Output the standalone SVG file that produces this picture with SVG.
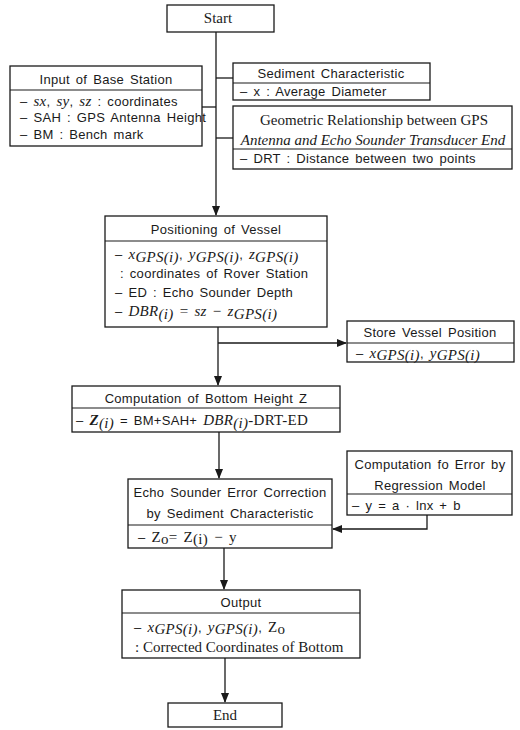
<svg xmlns="http://www.w3.org/2000/svg" width="520" height="730" viewBox="0 0 520 730">
<style>
.box{fill:#fff;stroke:#1a1a1a;stroke-width:1.3}
.div{stroke:#1a1a1a;stroke-width:1.1}
.s{font-family:"Liberation Sans",Arial,sans-serif;font-size:13px;fill:#1a1a1a;letter-spacing:0.3px;word-spacing:2px}
.r{font-family:"Liberation Serif","Times New Roman",serif;font-size:15px;fill:#1a1a1a}
.i{font-family:"Liberation Serif","Times New Roman",serif;font-style:italic;font-size:15px;fill:#1a1a1a}
.c{text-anchor:middle}
.conn path{fill:none;stroke:#1a1a1a;stroke-width:1.3}
</style>
<defs>
<marker id="ah" markerWidth="10" markerHeight="8" refX="9" refY="4" orient="auto" markerUnits="userSpaceOnUse">
<path d="M0,0 L10,4 L0,8 Z" fill="#1a1a1a"/>
</marker>
</defs>

<g class="conn">
<path d="M216,32 V215" marker-end="url(#ah)"/>
<path d="M202,107 H216"/>
<path d="M216,78 H233"/>
<path d="M216,138 H233"/>
<path d="M218,327 V385" marker-end="url(#ah)"/>
<path d="M218,343 H346" marker-end="url(#ah)"/>
<path d="M219,432 V478" marker-end="url(#ah)"/>
<path d="M427,515 V529 H333" marker-end="url(#ah)"/>
<path d="M224,548 V589" marker-end="url(#ah)"/>
<path d="M225,658 V702" marker-end="url(#ah)"/>
</g>

<g id="start">
<rect class="box" x="167" y="5" width="107" height="27"/>
<text class="r c" x="218" y="23">Start</text>
</g>

<g id="input-base-station">
<rect class="box" x="10" y="66" width="192" height="80"/>
<line class="div" x1="10" y1="90" x2="202" y2="90"/>
<text class="s c" x="106" y="84">Input of Base Station</text>
<text class="s" x="20" y="106">–  <tspan class="i" font-size="14">sx</tspan>,  <tspan class="i" font-size="14">sy</tspan>,  <tspan class="i" font-size="14">sz</tspan> : coordinates</text>
<text class="s" x="20" y="122">– SAH : GPS Antenna Height</text>
<text class="s" x="20" y="139">– BM : Bench mark</text>
</g>

<g id="sediment">
<rect class="box" x="233" y="63" width="197" height="37"/>
<line class="div" x1="233" y1="83" x2="430" y2="83"/>
<text class="s c" x="331" y="78">Sediment Characteristic</text>
<text class="s" x="240" y="96">– x : Average Diameter</text>
</g>

<g id="geometric">
<rect class="box" x="233" y="106" width="279" height="63"/>
<line class="div" x1="233" y1="149" x2="512" y2="149"/>
<text class="r" x="260" y="125" textLength="228" lengthAdjust="spacing">Geometric Relationship between GPS</text>
<text class="i c" x="373" y="145">Antenna and Echo Sounder Transducer End</text>
<text class="s" x="240" y="163">– DRT : Distance between two points</text>
</g>

<g id="positioning">
<rect class="box" x="105" y="216" width="222" height="111"/>
<line class="div" x1="105" y1="241" x2="327" y2="241"/>
<text class="s c" x="216" y="234">Positioning of Vessel</text>
<text class="s" x="115" y="259">–  <tspan class="i" font-size="16">x</tspan><tspan class="i" font-size="9" dy="3">GPS(i)</tspan><tspan dy="-3">,   </tspan><tspan class="i" font-size="16">y</tspan><tspan class="i" font-size="9" dy="3">GPS(i)</tspan><tspan dy="-3">,   </tspan><tspan class="i" font-size="16">z</tspan><tspan class="i" font-size="9" dy="3">GPS(i)</tspan></text>
<text class="s" x="120" y="278">: coordinates of Rover Station</text>
<text class="s" x="115" y="297">–  ED : Echo Sounder Depth</text>
<text class="s" x="115" y="316">–  <tspan class="i">DBR</tspan><tspan class="i" font-size="9" dy="3">(i)</tspan><tspan class="r" dy="-3"> = </tspan><tspan class="i">sz</tspan><tspan class="r"> − </tspan><tspan class="i">z</tspan><tspan class="i" font-size="9" dy="3">GPS(i)</tspan></text>
</g>

<g id="store">
<rect class="box" x="347" y="321" width="167" height="41"/>
<line class="div" x1="347" y1="343" x2="514" y2="343"/>
<text class="s c" x="430" y="337">Store Vessel Position</text>
<text class="s" x="356" y="358">–  <tspan class="i" font-size="14">x</tspan><tspan class="i" font-size="9" dy="2">GPS(i)</tspan><tspan dy="-2">,  </tspan><tspan class="i" font-size="14">y</tspan><tspan class="i" font-size="9" dy="2">GPS(i)</tspan></text>
</g>

<g id="bottom-height">
<rect class="box" x="72" y="386" width="268" height="46"/>
<line class="div" x1="72" y1="408" x2="340" y2="408"/>
<text class="s c" x="206" y="403">Computation of Bottom Height Z</text>
<text class="s" x="76" y="425">– <tspan class="i" font-weight="bold">Z</tspan><tspan class="i" font-size="9" dy="3">(i)</tspan><tspan dy="-3"> = BM+SAH+ </tspan><tspan class="i">DBR</tspan><tspan class="i" font-size="9" dy="3">(i)</tspan><tspan class="r" font-size="14" dy="-3">-DRT-ED</tspan></text>
</g>

<g id="regression">
<rect class="box" x="347" y="451" width="165" height="64"/>
<line class="div" x1="347" y1="494" x2="512" y2="494"/>
<text class="s c" x="430" y="469">Computation fo Error by</text>
<text class="s c" x="430" y="490">Regression Model</text>
<text class="s" x="352" y="510">– y = a · lnx + b</text>
</g>

<g id="echo-correction">
<rect class="box" x="128" y="479" width="204" height="69"/>
<line class="div" x1="128" y1="525" x2="332" y2="525"/>
<text class="s c" x="230" y="497">Echo Sounder Error Correction</text>
<text class="s c" x="230" y="518">by Sediment Characteristic</text>
<text class="s" x="138" y="542">–  <tspan class="r">Z</tspan><tspan class="r" font-size="9" dy="2">o</tspan><tspan class="r" dy="-2">= Z</tspan><tspan class="r" font-size="9" dy="2">(i)</tspan><tspan class="r" dy="-2"> − y</tspan></text>
</g>

<g id="output">
<rect class="box" x="122" y="590" width="238" height="68"/>
<line class="div" x1="122" y1="613" x2="360" y2="613"/>
<text class="s c" x="241" y="607">Output</text>
<text class="s" x="134" y="632">–  <tspan class="i" font-size="14">x</tspan><tspan class="i" font-size="9" dy="2">GPS(i)</tspan><tspan dy="-2">,  </tspan><tspan class="i" font-size="14">y</tspan><tspan class="i" font-size="9" dy="2">GPS(i)</tspan><tspan dy="-2">,   </tspan><tspan class="r">Z</tspan><tspan class="r" font-size="9" dy="2">o</tspan></text>
<text class="r" x="135" y="652" font-size="14">: Corrected Coordinates of Bottom</text>
</g>

<g id="end">
<rect class="box" x="168" y="703" width="114" height="24"/>
<text class="r c" x="225" y="720">End</text>
</g>
</svg>
